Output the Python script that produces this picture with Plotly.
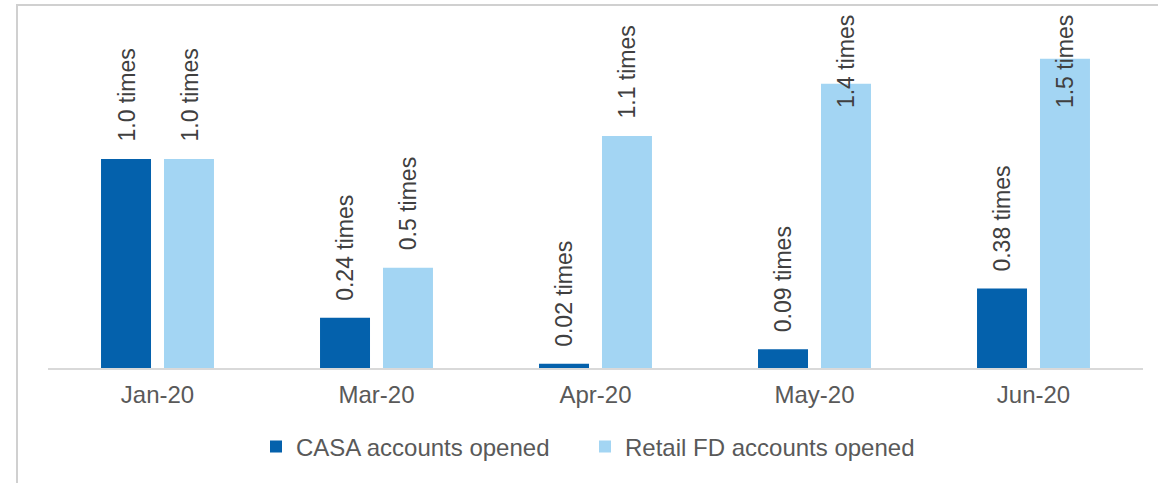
import plotly.graph_objects as go

categories = ["Jan-20", "Mar-20", "Apr-20", "May-20", "Jun-20"]
casa_values = [1.0, 0.24, 0.02, 0.09, 0.38]
fd_values = [1.0, 0.48, 1.11, 1.36, 1.48]
casa_labels = ["1.0 times", "0.24 times", "0.02 times", "0.09 times", "0.38 times"]
fd_labels = ["1.0 times", "0.5 times", "1.1 times", "1.4 times", "1.5 times"]
series_names = ["CASA accounts opened", "Retail FD accounts opened"]

FONT = "Liberation Sans, Arial, sans-serif"
CASA_COLOR = "#0461AC"
FD_COLOR = "#A3D5F3"
LABEL_CAP = 1.16  # labels clamped inside plot area like Excel

W, H = 1158, 483
L, R, T, B = 48, 15, 20, 115
PW, PH = W - L - R, H - T - B

fig = go.Figure()
fig.add_trace(go.Bar(x=categories, y=casa_values, name=series_names[0],
                     marker=dict(color=CASA_COLOR, line=dict(width=0))))
fig.add_trace(go.Bar(x=categories, y=fd_values, name=series_names[1],
                     marker=dict(color=FD_COLOR, line=dict(width=0))))

annotations = []
for vals, labels, shift in [(casa_values, casa_labels, -31.5), (fd_values, fd_labels, 31.5)]:
    for c, v, t in zip(categories, vals, labels):
        annotations.append(dict(
            x=c, y=min(v, LABEL_CAP), xref="x", yref="y", text=t,
            showarrow=False, textangle=-90, xanchor="center", yanchor="bottom",
            xshift=shift, yshift=16, borderpad=0,
            font=dict(family=FONT, size=23, color="#404040")))

def px_x(p):
    return (p - L) / PW

def px_y(p):
    return (H - B - p) / PH

shapes = [
    dict(type="line", xref="paper", yref="paper", x0=px_x(17), x1=px_x(17),
         y0=px_y(H + 2), y1=px_y(5), line=dict(color="#D0D0D0", width=2)),
    dict(type="line", xref="paper", yref="paper", x0=px_x(16), x1=px_x(W + 2),
         y0=px_y(5), y1=px_y(5), line=dict(color="#D0D0D0", width=2)),
]

fig.update_layout(
    width=W, height=H,
    margin=dict(l=L, r=R, t=T, b=B, autoexpand=False),
    paper_bgcolor="white", plot_bgcolor="white",
    barmode="group", bargap=0.425, bargroupgap=0.206,
    showlegend=True,
    legend=dict(orientation="h", x=px_x(256), xanchor="left", y=px_y(447), yanchor="middle",
                entrywidth=284, entrywidthmode="pixels",
                font=dict(family=FONT, size=24, color="#595959"), traceorder="normal"),
    font=dict(family=FONT, size=24, color="#595959"),
    annotations=annotations,
    shapes=shapes,
    xaxis=dict(showline=True, linecolor="#D9D9D9", linewidth=2, ticks="",
               ticklabelstandoff=4,
               tickfont=dict(family=FONT, size=24, color="#595959"),
               showgrid=False, zeroline=False),
    yaxis=dict(range=[0, PH / 209], visible=False, showgrid=False, zeroline=False),
)

fig.write_html("out.html", config={"displayModeBar": False},
               post_script="document.body.style.margin='0';document.body.style.overflow='hidden';")
